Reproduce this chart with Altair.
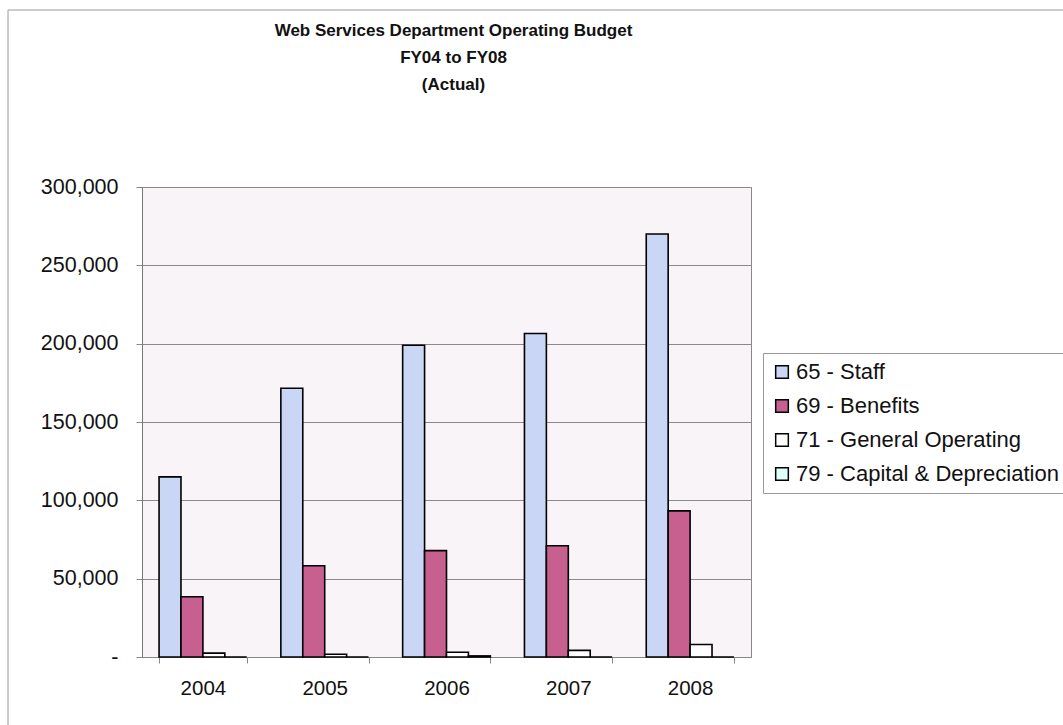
import altair as alt
import pandas as pd

years = ["2004", "2005", "2006", "2007", "2008"]
series = ["65 - Staff", "69 - Benefits", "71 - General Operating", "79 - Capital & Depreciation"]
staff = [115000, 171500, 199000, 206500, 270000]
benefits = [38500, 58200, 67900, 71000, 93300]
general_operating = [2500, 1800, 3000, 4200, 8000]
capital = [0, 0, 700, 0, 0]
colors = ["#CAD6F6", "#C8608F", "#FFFFFF", "#DDFFFA"]

rows = []
for name, vals in zip(series, [staff, benefits, general_operating, capital]):
    for y, v in zip(years, vals):
        rows.append({"Year": y, "Series": name, "Value": v})
df = pd.DataFrame(rows)

font = "Liberation Sans"
PAD_L, PAD_T = 142, 187

# decorative outer frame of the chart object (left/top edges visible)
frame = alt.Chart(pd.DataFrame({"a": [0]})).mark_rect(
    fill=None, stroke="#9a9a9a", strokeWidth=1
).encode(
    x=alt.value(8 - PAD_L), x2=alt.value(1075 - PAD_L),
    y=alt.value(10 - PAD_T), y2=alt.value(740 - PAD_T),
)

bars = alt.Chart(df).mark_bar(stroke="black", strokeWidth=1.6).encode(
    x=alt.X("Year:N", sort=years, title=None,
            scale=alt.Scale(paddingInner=0.28, paddingOuter=0.14),
            axis=alt.Axis(labelAngle=0, tickBand="extent", labelFontSize=20.5,
                          labelFont=font, labelColor="#111111", labelPadding=15,
                          domainColor="#888888", tickColor="#888888", tickSize=6,
                          grid=False)),
    xOffset=alt.XOffset("Series:N", sort=series),
    y=alt.Y("Value:Q", title=None,
            scale=alt.Scale(domain=[0, 300000], nice=False),
            axis=alt.Axis(values=[0, 50000, 100000, 150000, 200000, 250000, 300000],
                          labelExpr="datum.value == 0 ? '-' : format(datum.value, ',')",
                          labelFontSize=21.5, labelFont=font, labelColor="#111111",
                          labelPadding=18, tickSize=6, tickColor="#888888",
                          domainColor="#777777", gridColor="#8a8a8a", gridWidth=1)),
    fill=alt.Fill("Series:N", sort=series,
                  scale=alt.Scale(domain=series, range=colors),
                  legend=alt.Legend(title=None, orient="none", legendX=621, legendY=166,
                                    symbolType="square", symbolSize=160,
                                    symbolStrokeColor="black", symbolStrokeWidth=1.5,
                                    labelFontSize=22, labelFont=font, labelColor="#111111",
                                    labelLimit=400, rowPadding=12, labelOffset=3,
                                    padding=8, strokeColor="#999999", fillColor="white")),
)

chart = alt.layer(frame, bars).properties(
    width=609, height=470,
    title=alt.Title(["Web Services Department Operating Budget", "FY04 to FY08", "(Actual)"],
                    fontSize=17, font=font, fontWeight="bold", color="#111111",
                    lineHeight=27, offset=-84, anchor="middle", frame="group", dx=7),
    padding={"left": PAD_L, "top": PAD_T, "right": 1063 - PAD_L - 609, "bottom": 725 - PAD_T - 470},
    autosize=alt.AutoSizeParams(type="none"),
    background="white",
).configure_view(
    fill="#F9F4F8", stroke="#888888", strokeWidth=1
)

chart.save("out.html", embed_options={"renderer": "svg", "actions": False})
